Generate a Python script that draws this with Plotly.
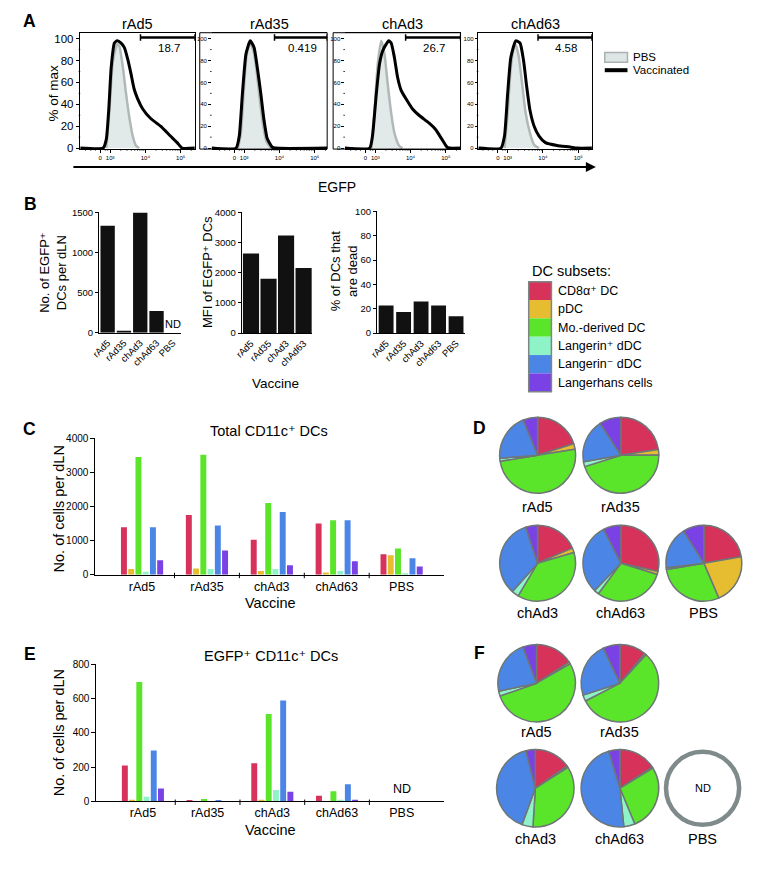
import plotly.graph_objects as go

W, H = 757, 871          # target picture size
OX, OY = 8, 8            # default page margin of the html body
FW, FH = W - 2 * OX, H - 2 * OY
FONT = "Liberation Sans, Arial, Helvetica, DejaVu Sans, sans-serif"

# ---------------- data ----------------
vaccines = ["rAd5", "rAd35", "chAd3", "chAd63"]
gate_pct = ["18.7", "0.419", "26.7", "4.58"]

# Panel A histograms (x = log10 display units of EGFP, y = % of max)
vacc_x = [
    [2.80, 2.89, 2.96, 3.03, 3.12, 3.20, 3.31, 3.40, 3.50, 3.59, 3.68, 3.78, 3.92, 4.15, 4.43, 4.71, 4.90, 5.04],
    [2.77, 2.86, 2.95, 3.05, 3.17, 3.28, 3.37, 3.47, 3.56, 3.65, 3.79, 3.88],
    [2.84, 2.92, 3.03, 3.12, 3.21, 3.31, 3.38, 3.45, 3.54, 3.63, 3.73, 3.87, 4.05, 4.24, 4.52, 4.71, 4.89, 5.03, 5.10],
    [2.81, 2.91, 3.00, 3.09, 3.23, 3.35, 3.45, 3.54, 3.63, 3.75, 3.89, 4.07, 4.40, 4.77, 4.96],
]
vacc_y = [
    [0, 8, 35, 74, 96, 98, 96, 92, 81, 68, 54, 45, 36, 27, 20, 11, 5, 0],
    [0, 11, 50, 86, 98, 92, 74, 50, 26, 9, 1, 0],
    [0, 11, 50, 77, 89, 95, 98, 96, 83, 65, 53, 45, 36, 30, 23, 17, 8, 1, 0],
    [0, 11, 50, 83, 98, 96, 80, 56, 35, 20, 11, 5, 2.4, 1, 0],
]
pbs_x = [
    [2.89, 2.98, 3.08, 3.20, 3.26, 3.36, 3.45, 3.54, 3.64, 3.73, 3.82],
    [2.82, 2.90, 2.98, 3.07, 3.17, 3.27, 3.36, 3.45, 3.54, 3.63, 3.76],
    [2.89, 2.98, 3.07, 3.17, 3.26, 3.35, 3.45, 3.54, 3.68, 3.77],
    [2.91, 3.00, 3.09, 3.20, 3.30, 3.42, 3.51, 3.63, 3.75, 3.89],
]
pbs_y = [
    [0, 35, 80, 95, 93, 74, 50, 29, 11, 2.4, 0],
    [0, 12, 48, 85, 96, 88, 68, 42, 20, 6, 0],
    [0, 35, 77, 98, 86, 59, 32, 14, 2, 0],
    [0, 32, 74, 96, 86, 56, 32, 14, 3, 0],
]
gate_start = 3.86
hist_xtickvals = [2.72, 3, 4, 5]
hist_xticktext = ["0", "10³", "10⁴", "10⁵"]
hist_ytickvals = [0, 20, 40, 60, 80, 100]

# Panel B
b_cats = ["rAd5", "rAd35", "chAd3", "chAd63", "PBS"]
b_egfp_count = [1335, 25, 1500, 271, None]
b_mfi_cats = ["rAd5", "rAd35", "chAd3", "chAd63"]
b_mfi = [2640, 1800, 3235, 2160]
b_dead = [22.7, 17.3, 26.1, 22.7, 13.9]

# Panels C-F
groups = ["rAd5", "rAd35", "chAd3", "chAd63", "PBS"]
subsets = ["CD8α⁺ DC", "pDC", "Mo.-derived DC", "Langerin⁺ dDC", "Langerin⁻ dDC", "Langerhans cells"]
subset_colors = ["#d6325a", "#e6bd30", "#5be52a", "#8ef3c6", "#4b86e6", "#7a42e4"]

total_cd8 = [1388, 1754, 1022, 1503, 598]
total_pdc = [164, 183, 106, 67, 569]
total_mo = [3450, 3518, 2101, 1600, 771]
total_langp = [87, 164, 164, 106, 20]
total_langn = [1388, 1446, 1841, 1600, 480]
total_lc = [424, 713, 280, 395, 240]

egfp_cd8 = [209, 3, 222, 34, None]
egfp_pdc = [10, 0.2, 10, 1, None]
egfp_mo = [695, 15, 509, 59, None]
egfp_langp = [27, 0.7, 67, 10, None]
egfp_langn = [297, 6.2, 588, 101, None]
egfp_lc = [75, 1.9, 57, 10, None]

total_series = [total_cd8, total_pdc, total_mo, total_langp, total_langn, total_lc]
egfp_series = [egfp_cd8, egfp_pdc, egfp_mo, egfp_langp, egfp_langn, egfp_lc]

# ---------------- helpers (positions given in picture pixels) ----------------
def px(x):
    return (x - OX) / FW

def py(y):
    return 1 - (y - OY) / FH

def dx(a, b):
    return [px(a), px(b)]

def dy(top, bot):
    return [py(bot), py(top)]

annotations = []
shapes = []

def text(t, x, y, size, xanchor="center", angle=0, bold=False, color="black"):
    annotations.append(dict(
        text=("<b>%s</b>" % t) if bold else t, x=px(x), y=py(y), xref="paper", yref="paper",
        xanchor=xanchor, yanchor="middle", showarrow=False, textangle=angle,
        font=dict(family=FONT, size=size, color=color)))

fig = go.Figure()
layout = dict(width=FW, height=FH, margin=dict(l=0, r=0, t=0, b=0),
              paper_bgcolor="white", plot_bgcolor="white", showlegend=False,
              barmode="group", bargap=0.33, bargroupgap=0.18,
              font=dict(family=FONT, color="black"))

def axname(kind, n):
    return kind if n == 1 else "%s%d" % (kind, n)

def ref(kind, n):
    return kind if n == 1 else "%s%d" % (kind, n)

BASE = dict(showgrid=False, zeroline=False, showline=True, linecolor="black", linewidth=1,
            ticks="outside", tickcolor="black", ticklen=4, tickwidth=1)

def set_axes(n, xdom, ydom, xkw, ykw):
    xd = dict(BASE); xd.update(domain=dx(*xdom), anchor=ref("y", n)); xd.update(xkw)
    yd = dict(BASE); yd.update(domain=dy(*ydom), anchor=ref("x", n)); yd.update(ykw)
    layout[axname("xaxis", n)] = xd
    layout[axname("yaxis", n)] = yd

# ---------------- Panel A ----------------
A_dom = [(72, 188), (205, 322), (340, 457), (475, 590)]
A_box = [(72, 188), (193, 322), (328, 457), (475, 590)]
A_xr = [[2.151, 5.401], [2.076, 5.353], [2.140, 5.417], [2.168, 5.389]]
A_top, A_bot = 27, 145
A_yr = [-0.9, 105.4]
minor_x = [2.3, 2.45, 2.58, 2.86, 2.93] + [3 + k / 10 for k in (3.01, 4.77, 6.02, 6.99, 7.78, 8.45, 9.03, 9.54)] \
    + [4 + k / 10 for k in (3.01, 4.77, 6.02, 6.99, 7.78, 8.45, 9.03, 9.54)] + [5.301]
minor_y = [10, 30, 50, 70, 90]

for i in range(4):
    n = i + 1
    tiny = i > 0
    set_axes(n, A_dom[i], (A_top, A_bot),
             dict(range=A_xr[i], tickmode="array", tickvals=hist_xtickvals, ticktext=hist_xticktext,
                  ticklen=2.5, mirror=True, tickfont=dict(family=FONT, size=6, color="black")),
             dict(range=A_yr, tickmode="array", tickvals=hist_ytickvals,
                  ticklen=2.5 if tiny else 3.5, mirror=(i in (0, 3)), showline=(i in (0, 3)),
                  tickfont=dict(family=FONT, size=6 if tiny else 11.5, color="black")))
    xr = A_xr[i]
    xa, ya = ref("x", n), ref("y", n)
    fig.add_trace(go.Scatter(x=pbs_x[i], y=pbs_y[i], mode="lines", fill="tozeroy",
                             fillcolor="#e1e9e9", line=dict(color="#b1b8b8", width=2.5, shape="spline", smoothing=0.6),
                             xaxis=xa, yaxis=ya, name="PBS"))
    fig.add_trace(go.Scatter(x=[xr[0]] + vacc_x[i] + [xr[1]], y=[0] + vacc_y[i] + [0], mode="lines",
                             line=dict(color="black", width=3, shape="spline", smoothing=0.5),
                             xaxis=xa, yaxis=ya, name="Vaccinated"))
    # minor ticks
    for mx in minor_x:
        if xr[0] < mx < xr[1]:
            shapes.append(dict(type="line", xref=xa, yref=ya + " domain", x0=mx, x1=mx, y0=0, y1=-0.014,
                               line=dict(color="black", width=0.8)))
    for my in minor_y:
        shapes.append(dict(type="line", xref=xa + " domain", yref=ya, x0=0, x1=-0.014, y0=my, y1=my,
                           line=dict(color="black", width=0.8)))
    if i in (1, 2):
        b0, b1 = A_box[i]
        shapes.append(dict(type="rect", xref="paper", yref="paper", x0=px(b0), x1=px(b1),
                           y0=py(A_bot), y1=py(A_top), line=dict(color="black", width=1)))
    # gate
    shapes.append(dict(type="line", xref=xa, yref=ya, x0=gate_start, x1=xr[1], y0=101, y1=101,
                       line=dict(color="black", width=2.5)))
    for gx in (gate_start, xr[1]):
        shapes.append(dict(type="line", xref=xa, yref=ya, x0=gx, x1=gx, y0=98, y1=104,
                           line=dict(color="black", width=1.5)))
    annotations.append(dict(text=gate_pct[i], x=(gate_start + xr[1]) / 2 + 0.04, y=91, xref=xa, yref=ya,
                            showarrow=False, font=dict(family=FONT, size=11.5)))
    text(vaccines[i], (A_dom[i][0] + A_dom[i][1]) / 2, 18, 14.5)

text("% of max", 45, 88, 13.5, angle=-90)
# legend A
shapes.append(dict(type="rect", xref="paper", yref="paper", x0=px(603), x1=px(626), y0=py(57), y1=py(47),
                   fillcolor="#dde5e5", line=dict(color="#a9b1b1", width=1.5)))
shapes.append(dict(type="line", xref="paper", yref="paper", x0=px(603), x1=px(626), y0=py(65), y1=py(65),
                   line=dict(color="black", width=4)))
text("PBS", 630, 52, 11.5, xanchor="left")
text("Vaccinated", 630, 65, 11.5, xanchor="left")
# EGFP arrow
annotations.append(dict(text="", x=px(594), y=py(163.3), ax=-(594 - 70), ay=0, xref="paper", yref="paper",
                        axref="pixel", ayref="pixel", showarrow=True, arrowhead=2, arrowsize=1,
                        arrowwidth=2, arrowcolor="black"))
text("EGFP", 332, 183, 14)

# ---------------- Panel B ----------------
BT = dict(family=FONT, size=9.5)
set_axes(5, (91.5, 174), (209.3, 331.3),
         dict(type="category", range=[-0.5, 4.5], ticks="", tickangle=-45, tickfont=BT),
         dict(range=[0, 1500], tickvals=[0, 500, 1000, 1500], tickfont=BT, ticklen=3.5))
fig.add_trace(go.Bar(x=b_cats, y=b_egfp_count, width=0.88, marker=dict(color="#111111", line=dict(width=0)),
                     xaxis="x5", yaxis="y5"))
annotations.append(dict(text="ND", x="PBS", y=0, xref="x5", yref="y5", yanchor="bottom", yshift=1,
                        showarrow=False, font=dict(family=FONT, size=11)))

set_axes(6, (236, 307), (209.3, 331.7),
         dict(type="category", range=[-0.5, 3.5], ticks="", tickangle=-45, tickfont=BT),
         dict(range=[0, 4000], tickvals=[0, 1000, 2000, 3000, 4000], tickfont=BT, ticklen=3.5))
fig.add_trace(go.Bar(x=b_mfi_cats, y=b_mfi, width=0.92, marker=dict(color="#111111", line=dict(width=0)),
                     xaxis="x6", yaxis="y6"))

set_axes(7, (372.8, 461.3), (208.3, 331.7),
         dict(type="category", range=[-0.5, 4.5], ticks="", tickangle=-45, tickfont=BT),
         dict(range=[0, 100], tickvals=[0, 20, 40, 60, 80, 100], tickfont=BT, ticklen=3.5))
fig.add_trace(go.Bar(x=b_cats, y=b_dead, width=0.85, marker=dict(color="#111111", line=dict(width=0)),
                     xaxis="x7", yaxis="y7"))

text("No. of EGFP⁺<br>DCs per dLN", 45, 270, 13, angle=-90)
text("MFI of EGFP⁺ DCs", 201, 270, 13, angle=-90)
text("% of DCs that<br>are dead", 339, 268, 13, angle=-90)
text("Vaccine", 270, 382.5, 13.5)

# legend (DC subsets)
text("DC subsets:", 527, 269, 14.5, xanchor="left")
row_h = 18.6
for k, (name, col) in enumerate(zip(subsets, subset_colors)):
    t = 279.5 + k * row_h
    shapes.append(dict(type="rect", xref="paper", yref="paper", x0=px(526), x1=px(549),
                       y0=py(t + row_h), y1=py(t), fillcolor=col, line=dict(width=0)))
    text(name, 554, t + row_h / 2, 12.5, xanchor="left")
shapes.append(dict(type="rect", xref="paper", yref="paper", x0=px(526), x1=px(549),
                   y0=py(279.5 + 6 * row_h), y1=py(279.5), line=dict(color="#7d8686", width=1.5)))

# ---------------- Panel C & E ----------------
CT = dict(family=FONT, size=10)
CX = dict(family=FONT, size=12.5)
set_axes(8, (87.3, 440.7), (438.3, 576.7),
         dict(type="category", range=[-0.72, 4.66], ticks="", tickfont=CX),
         dict(range=[0, 4000], tickvals=[0, 1000, 2000, 3000, 4000], tickfont=CT))
set_axes(9, (88.3, 440.7), (667.3, 806.7),
         dict(type="category", range=[-0.72, 4.66], ticks="", tickfont=CX),
         dict(range=[0, 800], tickvals=[0, 200, 400, 600, 800], tickfont=CT))
for s in range(6):
    fig.add_trace(go.Bar(x=groups, y=total_series[s], name=subsets[s], xaxis="x8", yaxis="y8",
                         marker=dict(color=subset_colors[s], line=dict(width=0))))
for s in range(6):
    fig.add_trace(go.Bar(x=groups, y=egfp_series[s], name=subsets[s], xaxis="x9", yaxis="y9",
                         marker=dict(color=subset_colors[s], line=dict(width=0))))
for xa, base_y in (("x8", 576.7), ("x9", 806.7)):
    for b in (0.5, 1.5, 2.5, 3.5):
        shapes.append(dict(type="line", xref=xa, yref="paper", x0=b, x1=b, y0=py(base_y + 3.5),
                           y1=py(base_y - 2), line=dict(color="black", width=1)))
annotations.append(dict(text="ND", x="PBS", y=0, xref="x9", yref="y9", yanchor="bottom", yshift=3,
                        showarrow=False, font=dict(family=FONT, size=12.5)))
text("Total CD11c⁺ DCs", 263, 431, 14.5)
text("EGFP⁺ CD11c⁺ DCs", 265, 659, 14.5)
text("No. of cells per dLN", 50, 510, 14.5, angle=-90)
text("No. of cells per dLN", 50, 737, 14.5, angle=-90)
text("Vaccine", 265, 605, 14.5)
text("Vaccine", 265, 836, 14.5)

# ---------------- Panels D & F (pies) ----------------
def pie(vals, cx, cy, r):
    fig.add_trace(go.Pie(values=vals, labels=subsets, sort=False, direction="clockwise",
                         domain=dict(x=dx(cx - r, cx + r), y=dy(cy - r, cy + r)),
                         marker=dict(colors=subset_colors, line=dict(color="#6e7676", width=1.5)),
                         textinfo="none", hoverinfo="label+value", showlegend=False))

D_centers = [(535, 455.5), (619.3, 455.5), (535, 565), (619.3, 565), (703.3, 565)]
D_label_y = [508.5, 508.5, 615.5, 615.5, 615.5]
for g in range(5):
    vals = [ser[g] for ser in total_series]
    cx, cy = D_centers[g]
    pie(vals, cx, cy, 38.5)
    text(groups[g], cx, D_label_y[g], 14.5)

F_centers = [(534, 686.7), (618.3, 686.7), (532.7, 793.3), (618.3, 793.3), (702, 793.3)]
F_label_y = [736, 736, 845, 845, 845]
for g in range(5):
    cx, cy = F_centers[g]
    vals = [ser[g] for ser in egfp_series]
    if any(v is None for v in vals):
        shapes.append(dict(type="circle", xref="paper", yref="paper", x0=px(cx - 37), x1=px(cx + 37),
                           y0=py(cy + 37), y1=py(cy - 37), line=dict(color="#7f8b8b", width=4.5)))
        text("ND", cx, cy, 11)
    else:
        pie(vals, cx, cy, 39.3)
    text(groups[g], cx, F_label_y[g], 14.5)

# panel letters
for letter, (lx, ly) in {"A": (21, 15), "B": (21.5, 201), "C": (21, 429), "D": (476, 428),
                         "E": (21, 657.5), "F": (476, 656)}.items():
    text(letter, lx, ly, 17.5, bold=True)

layout["annotations"] = annotations
layout["shapes"] = shapes
fig.update_layout(**layout)
fig.write_html("out.html")
